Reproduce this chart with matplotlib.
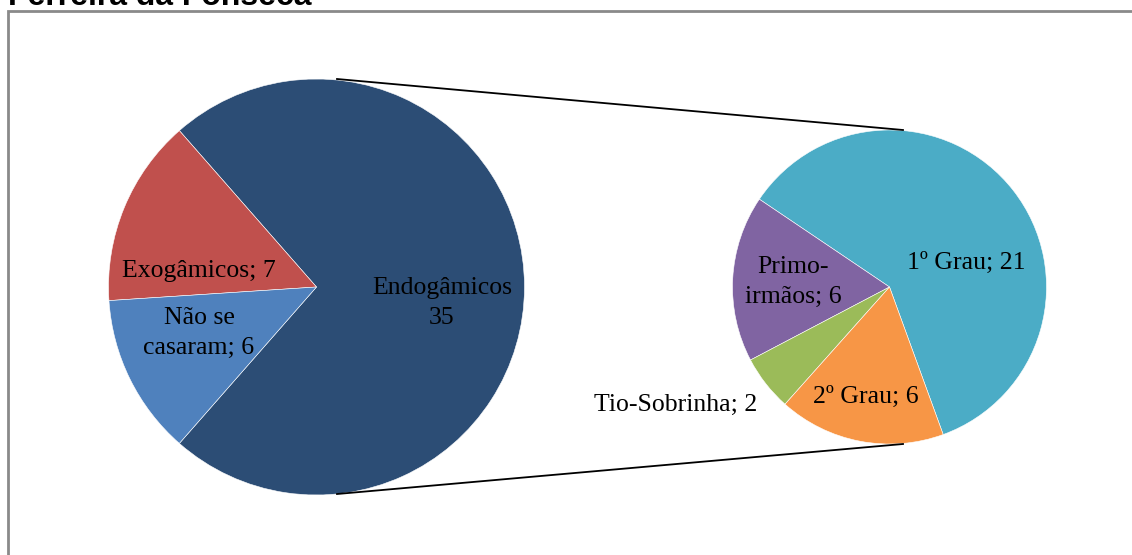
import matplotlib
matplotlib.use("Agg")
import matplotlib.pyplot as plt
from matplotlib.patches import Rectangle
from matplotlib.lines import Line2D

# ---- data ----
title = "Ferreira da Fonseca"
main_labels = ["Endogâmicos", "Exogâmicos", "Não se casaram"]
main_values = [35, 7, 6]
main_colors = ["#2C4D75", "#C0504D", "#4F81BD"]

sub_labels = ["1º Grau", "Primo-irmãos", "Tio-Sobrinha", "2º Grau"]
sub_values = [21, 6, 2, 6]
sub_colors = ["#4BACC6", "#8064A2", "#9BBB59", "#F79646"]

W, H = 1132, 555
fig = plt.figure(figsize=(W / 100, H / 100), dpi=100)
ax = fig.add_axes([0, 0, 1, 1])

def Y(y):
    return H - y

# main pie
c1 = (316.5, Y(287))
r1 = 208
ax.pie(main_values, colors=main_colors, startangle=-131.25, counterclock=True,
       center=c1, radius=r1, wedgeprops=dict(edgecolor="white", linewidth=0.4))

# secondary pie
c2 = (889.5, Y(287))
r2 = 157
ax.pie(sub_values, colors=sub_colors, startangle=-70, counterclock=True,
       center=c2, radius=r2, wedgeprops=dict(edgecolor="white", linewidth=0.4))

ax.set_xlim(0, W)
ax.set_ylim(0, H)
ax.set_aspect("auto")
ax.axis("off")

# connector lines
ax.add_line(Line2D([337, 903], [Y(79), Y(130)], color="black", lw=1.3))
ax.add_line(Line2D([337, 903], [Y(494), Y(444)], color="black", lw=1.3))

# frame
ax.add_patch(Rectangle((8, -20), W + 40, Y(11) + 20, fill=False,
                       edgecolor="#8a8a8a", lw=2))

fs = 18.5
tf = dict(family="Liberation Serif", fontsize=fs, color="black",
          ha="center", va="center", linespacing=1.45)

ax.text(442, Y(303), f"{main_labels[0]}\n{main_values[0]}", **tf)
ax.text(199, Y(271), f"{main_labels[1]}; {main_values[1]}", **tf)
ax.text(199, Y(333), "Não se\ncasaram; " + str(main_values[2]), **tf)

ax.text(966, Y(263), f"{sub_labels[0]}; {sub_values[0]}", **tf)
ax.text(793, Y(282), "Primo-\nirmãos; " + str(sub_values[1]), **tf)
ax.text(676, Y(405), f"{sub_labels[2]}; {sub_values[2]}", **tf)
ax.text(866, Y(397), f"{sub_labels[3]}; {sub_values[3]}", **tf)

fig.text(8 / W, 1 - 5 / H, title, family="Liberation Sans", fontweight="bold",
         fontsize=23, ha="left", va="baseline")

fig.savefig("out.png", dpi=100)
